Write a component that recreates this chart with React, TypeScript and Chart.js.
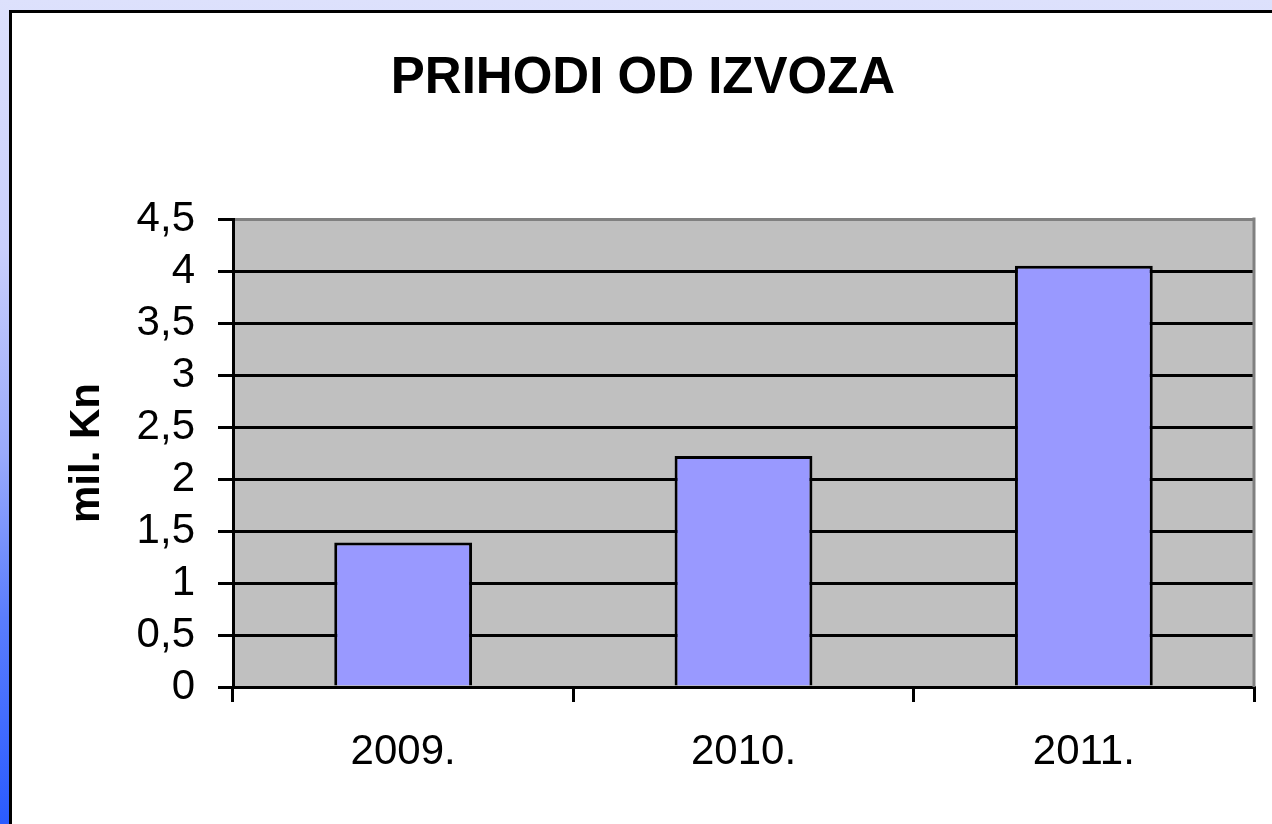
import React, { useEffect, useRef } from 'react';
import { Chart, registerables } from 'chart.js';

Chart.register(...registerables);

// ---- data ----
const categories: string[] = ['2009.', '2010.', '2011.'];
const revenue: number[] = [1.39, 2.22, 4.05];
const chartTitle = 'PRIHODI OD IZVOZA';
const yAxisTitle = 'mil. Kn';
const yMin = 0;
const yMax = 4.5;
const yStep = 0.5;

const FONT = "'Liberation Sans', Arial, Helvetica, sans-serif";

const plotBackground = {
  id: 'plotBackground',
  beforeDraw(chart: any) {
    const { ctx, chartArea } = chart;
    const { left, top, right, bottom } = chartArea;
    ctx.save();
    ctx.fillStyle = '#C0C0C0';
    ctx.fillRect(left, top, right - left, bottom - top);
    ctx.restore();
  },
  afterDatasetsDraw(chart: any) {
    const { ctx, chartArea } = chart;
    const { top, right, bottom } = chartArea;
    ctx.save();
    ctx.strokeStyle = '#808080';
    ctx.lineWidth = 3;
    ctx.beginPath();
    ctx.moveTo(right, top - 1.5);
    ctx.lineTo(right, bottom);
    ctx.stroke();
    ctx.restore();
  },
};

export default function App() {
  const canvasRef = useRef<HTMLCanvasElement | null>(null);

  useEffect(() => {
    if (!canvasRef.current) return;
    const chart = new Chart(canvasRef.current, {
      type: 'bar',
      data: {
        labels: categories,
        datasets: [
          {
            label: chartTitle,
            data: revenue,
            backgroundColor: '#9999FF',
            borderColor: '#000000',
            borderWidth: 3,
            barPercentage: 0.405,
            categoryPercentage: 1,
          },
        ],
      },
      options: {
        responsive: false,
        animation: false,
        devicePixelRatio: 1,
        layout: { padding: { left: 20, right: 38, top: 0, bottom: 0 } },
        plugins: {
          legend: { display: false },
          tooltip: { enabled: false },
          title: {
            display: true,
            text: chartTitle,
            color: '#000000',
            font: { family: FONT, size: 51, weight: 'bold', lineHeight: 1.2 },
            padding: { top: 35.5, bottom: 109.3 },
          },
        },
        scales: {
          x: {
            offset: true,
            grid: {
              display: true,
              offset: true,
              drawOnChartArea: false,
              drawTicks: true,
              tickLength: 15,
              tickWidth: 3,
              tickColor: '#000000',
              color: '#000000',
              lineWidth: 3,
            },
            border: { display: true, color: '#000000', width: 3 },
            ticks: {
              color: '#000000',
              font: { family: FONT, size: 42, lineHeight: 1.2 },
              padding: 25,
              maxRotation: 0,
              autoSkip: false,
            },
            afterFit(scale: any) {
              scale.height = 137;
            },
          },
          y: {
            min: yMin,
            max: yMax,
            grid: {
              display: true,
              drawOnChartArea: true,
              drawTicks: true,
              tickLength: 15,
              tickWidth: 3,
              tickColor: '#000000',
              lineWidth: 3,
              color: (ctx: any) =>
                ctx.tick && ctx.tick.value === yMax ? '#808080' : '#000000',
            },
            border: { display: true, color: '#000000', width: 3 },
            ticks: {
              stepSize: yStep,
              autoSkip: false,
              color: '#000000',
              font: { family: FONT, size: 42, lineHeight: 1.2 },
              padding: 23,
              callback: (v: any) => String(v).replace('.', ','),
            },
            title: {
              display: true,
              text: yAxisTitle,
              color: '#000000',
              font: { family: FONT, size: 42, weight: 'bold', lineHeight: 1.2 },
              padding: { top: 30, bottom: 0 },
            },
            afterFit(scale: any) {
              scale.width = 201;
            },
          },
        },
      },
      plugins: [plotBackground],
    });
    return () => chart.destroy();
  }, []);

  return (
    <div
      style={{
        position: 'fixed',
        left: 0,
        top: 0,
        width: 1272,
        height: 824,
        overflow: 'hidden',
        background:
          'linear-gradient(to bottom, #dde1fc 0%, #c9cffc 30%, #9aaafb 55%, #5a7dfd 75%, #2a5bff 100%)',
      }}
    >
      <div
        style={{
          position: 'absolute',
          left: 9,
          top: 10,
          width: 1400,
          height: 1000,
          border: '3px solid #000000',
          background: '#ffffff',
          boxSizing: 'border-box',
        }}
      />
      <canvas
        ref={canvasRef}
        width={1280}
        height={811}
        style={{ position: 'absolute', left: 12, top: 13, width: 1280, height: 811, display: 'block' }}
      />
    </div>
  );
}
